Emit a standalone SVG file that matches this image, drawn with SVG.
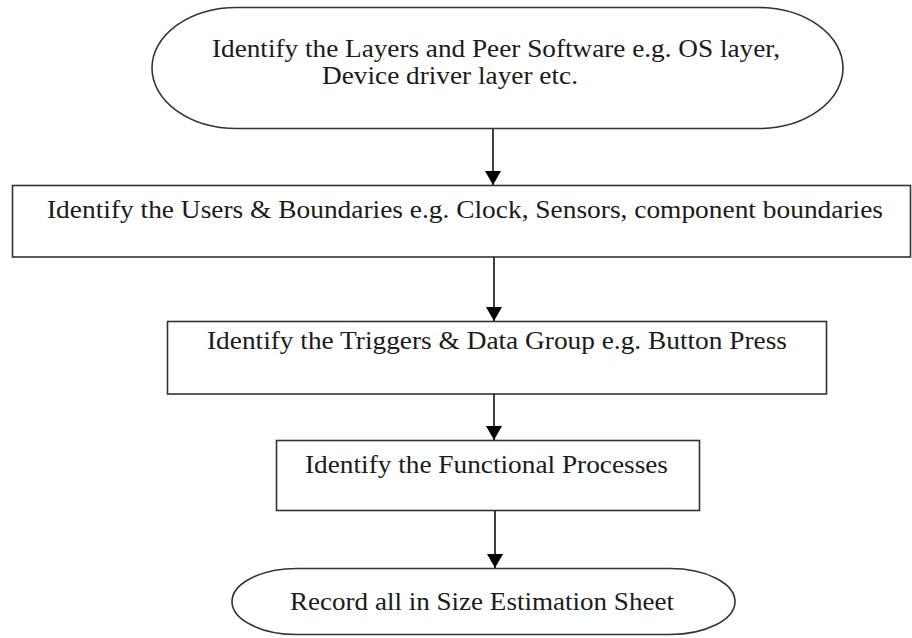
<svg xmlns="http://www.w3.org/2000/svg" width="912" height="638" viewBox="0 0 912 638">
  <defs>
    <marker id="arrow" viewBox="0 0 14 16" refX="14" refY="8" markerWidth="14" markerHeight="16" markerUnits="userSpaceOnUse" orient="auto">
      <path d="M0,0 L14,8 L0,16 Z" fill="#000"/>
    </marker>
    <style>
      .shape { fill: #fff; stroke: #333; stroke-width: 1.6; }
      .label { font-family: "Liberation Serif", "Times New Roman", serif; font-size: 25px; fill: #1a1a1a; }
      .conn { stroke: #111; stroke-width: 1.6; fill: none; marker-end: url(#arrow); }
    </style>
  </defs>
  <rect width="912" height="638" fill="#fff"/>

  <g id="node-layers">
    <path class="shape" d="M237,7.5 H758 A85,60.5 0 0 1 758,128.5 H237 A85,60.5 0 0 1 237,7.5 Z"/>
    <text class="label" x="212" y="57" textLength="568" lengthAdjust="spacingAndGlyphs">Identify the Layers and Peer Software e.g. OS layer,</text>
    <text class="label" x="322" y="84" textLength="256" lengthAdjust="spacingAndGlyphs">Device driver layer etc.</text>
  </g>

  <g id="node-users">
    <rect class="shape" x="12.5" y="185.5" width="898" height="71.5"/>
    <text class="label" x="47" y="218" textLength="836" lengthAdjust="spacingAndGlyphs">Identify the Users &amp; Boundaries e.g. Clock, Sensors, component boundaries</text>
  </g>

  <g id="node-triggers">
    <rect class="shape" x="167.5" y="321.5" width="659" height="72.5"/>
    <text class="label" x="207" y="349" textLength="580" lengthAdjust="spacingAndGlyphs">Identify the Triggers &amp; Data Group e.g. Button Press</text>
  </g>

  <g id="node-functional">
    <rect class="shape" x="276.5" y="440.5" width="423" height="70"/>
    <text class="label" x="305" y="473" textLength="363" lengthAdjust="spacingAndGlyphs">Identify the Functional Processes</text>
  </g>

  <g id="node-record">
    <path class="shape" d="M297,568.5 H670 A65,33 0 0 1 670,634.5 H297 A65,33 0 0 1 297,568.5 Z"/>
    <text class="label" x="290" y="610" textLength="384" lengthAdjust="spacingAndGlyphs">Record all in Size Estimation Sheet</text>
  </g>

  <g id="connectors">
    <line class="conn" x1="493" y1="129" x2="493" y2="185"/>
    <line class="conn" x1="494" y1="257" x2="494" y2="321"/>
    <line class="conn" x1="494" y1="394" x2="494" y2="440"/>
    <line class="conn" x1="495" y1="511" x2="495" y2="568"/>
  </g>
</svg>
